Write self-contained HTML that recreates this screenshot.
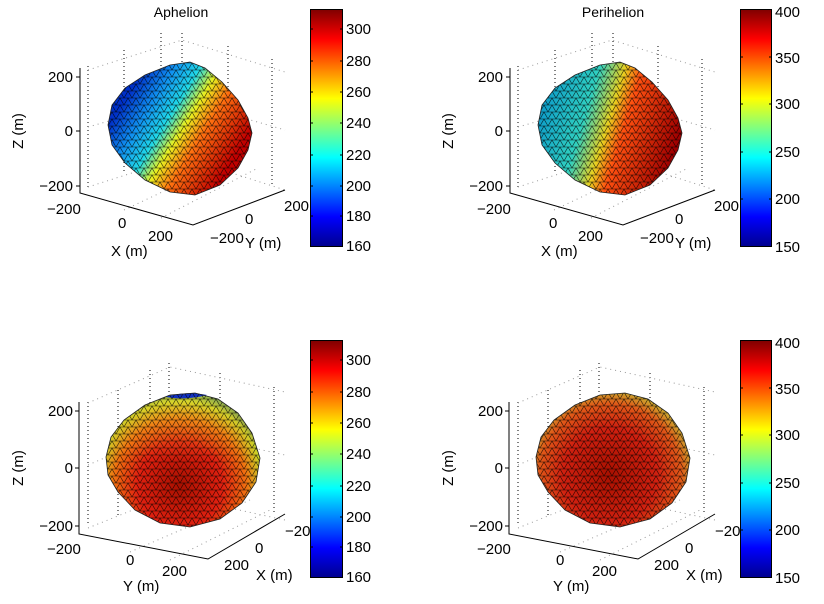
<!DOCTYPE html>
<html><head><meta charset="utf-8"><style>
html,body{margin:0;padding:0;background:#fff}
svg{display:block;font-family:"Liberation Sans",Arial,sans-serif}
</style></head><body>
<svg width="824" height="604" viewBox="0 0 824 604" xmlns="http://www.w3.org/2000/svg">
<defs>
<linearGradient id="jet" x1="0" y1="1" x2="0" y2="0">
<stop offset="0" stop-color="#00008f"/><stop offset="0.125" stop-color="#0000ff"/>
<stop offset="0.375" stop-color="#00ffff"/><stop offset="0.625" stop-color="#ffff00"/>
<stop offset="0.875" stop-color="#ff0000"/><stop offset="1" stop-color="#800000"/>
</linearGradient>
<pattern id="mesh" width="8" height="7" patternUnits="userSpaceOnUse">
<path d="M0 0H8M0 7H8M0 0L4 7L8 0M0 7L-4 0M8 7L12 0" stroke="#000" stroke-width="0.6" fill="none" opacity="0.8"/>
</pattern>
<linearGradient id="g1" gradientUnits="userSpaceOnUse" x1="140" y1="75" x2="245" y2="140">
<stop offset="0" stop-color="#0030c8"/><stop offset="0.2" stop-color="#1090f0"/>
<stop offset="0.38" stop-color="#20d8e8"/><stop offset="0.52" stop-color="#e8f020"/>
<stop offset="0.68" stop-color="#ff7010"/><stop offset="1" stop-color="#c00000"/>
</linearGradient>
<linearGradient id="g2" gradientUnits="userSpaceOnUse" x1="550" y1="90" x2="680" y2="130">
<stop offset="0" stop-color="#10a0c8"/><stop offset="0.3" stop-color="#30d0c0"/>
<stop offset="0.48" stop-color="#e8d020"/><stop offset="0.6" stop-color="#ff5010"/>
<stop offset="1" stop-color="#a00000"/>
</linearGradient>
<radialGradient id="g3" gradientUnits="userSpaceOnUse" cx="180" cy="485" r="95">
<stop offset="0" stop-color="#a81000"/><stop offset="0.45" stop-color="#e02010"/>
<stop offset="0.7" stop-color="#f07010"/><stop offset="0.88" stop-color="#c8d828"/>
<stop offset="1" stop-color="#207878"/>
</radialGradient>
<linearGradient id="g3b" x1="0" y1="0" x2="0" y2="1">
<stop offset="0" stop-color="#e8e030" stop-opacity="0.5"/><stop offset="0.3" stop-color="#f0a020" stop-opacity="0.25"/><stop offset="0.5" stop-color="#f0a020" stop-opacity="0"/>
</linearGradient>
<radialGradient id="g4" gradientUnits="userSpaceOnUse" cx="610" cy="475" r="95">
<stop offset="0" stop-color="#a81000"/><stop offset="0.5" stop-color="#d02010"/>
<stop offset="0.75" stop-color="#e05818"/><stop offset="0.9" stop-color="#c8b030"/>
<stop offset="1" stop-color="#306858"/>
</radialGradient>
</defs>

<!-- ========== PANEL 1 ========== -->
<g>
<text x="181" y="17" font-size="14" text-anchor="middle">Aphelion</text>
<g stroke="#000" stroke-width="1" stroke-dasharray="1,3">
<path d="M88 66V190M124 50V174M161 33V150M182 33V150M228 46V170M272 59V186"/>
</g>
<g stroke="#999" stroke-width="1" stroke-dasharray="1,4" fill="none">
<path d="M88 70L182 40L285 72M88 127L182 100L285 130M88 187L182 157L285 190M124 210L230 160M161 218L258 168"/>
</g>
<path d="M108 125L112 105L125 88L145 75L170 65L190 62L205 68L222 82L238 100L248 118L252 133L248 150L238 168L220 185L195 195L170 192L145 180L125 163L112 145Z" fill="url(#g1)"/>
<path d="M108 125L112 105L125 88L145 75L170 65L190 62L205 68L222 82L238 100L248 118L252 133L248 150L238 168L220 185L195 195L170 192L145 180L125 163L112 145Z" fill="url(#mesh)" stroke="#222" stroke-width="0.8"/>
<g stroke="#000" fill="none" stroke-width="1">
<path d="M80 68V193L193 225L285 190M76 77H80M76 131H80M76 186H80"/>
</g>
<g font-size="15" text-anchor="end">
<text x="73" y="82">200</text><text x="73" y="136">0</text><text x="73" y="191">−200</text>
</g>
<text transform="translate(23,131) rotate(-90)" font-size="15" text-anchor="middle">Z (m)</text>
<g font-size="15">
<text x="47" y="214">−200</text><text x="118" y="228">0</text><text x="148" y="241">200</text>
<text x="111" y="256">X (m)</text>
<text x="284" y="211">200</text><text x="245" y="224">0</text><text x="210" y="243">−200</text>
<text x="245" y="248">Y (m)</text>
</g>
<rect x="310.5" y="9.5" width="32" height="237" fill="url(#jet)" stroke="#000"/>
<g stroke="#000"><path d="M310 29h3M340 29h3M310 61h3M340 61h3M310 92h3M340 92h3M310 123h3M340 123h3M310 155h3M340 155h3M310 186h3M340 186h3M310 216h3M340 216h3"/></g>
<g font-size="15"><text x="346" y="34">300</text><text x="346" y="66">280</text><text x="346" y="97">260</text><text x="346" y="128">240</text><text x="346" y="160">220</text><text x="346" y="191">200</text><text x="346" y="221">180</text><text x="346" y="251">160</text></g>
</g>

<!-- ========== PANEL 2 ========== -->
<g>
<text x="613" y="17" font-size="14" text-anchor="middle">Perihelion</text>
<g stroke="#000" stroke-width="1" stroke-dasharray="1,3">
<path d="M518 66V190M555 50V174M592 33V150M613 33V150M658 46V170M702 59V186"/>
</g>
<g stroke="#999" stroke-width="1" stroke-dasharray="1,4" fill="none">
<path d="M518 70L612 40L715 72M518 127L612 100L715 130M518 187L612 157L715 190M554 210L660 160M591 218L688 168"/>
</g>
<path d="M538 125L542 105L555 88L575 75L600 65L620 62L635 68L652 82L668 100L678 118L682 133L678 150L668 168L650 185L625 195L600 192L575 180L555 163L542 145Z" fill="url(#g2)"/>
<path d="M538 125L542 105L555 88L575 75L600 65L620 62L635 68L652 82L668 100L678 118L682 133L678 150L668 168L650 185L625 195L600 192L575 180L555 163L542 145Z" fill="url(#mesh)" stroke="#222" stroke-width="0.8"/>
<g stroke="#000" fill="none" stroke-width="1">
<path d="M510 68V193L623 225L715 190M506 77H510M506 131H510M506 186H510"/>
</g>
<g font-size="15" text-anchor="end">
<text x="503" y="82">200</text><text x="503" y="136">0</text><text x="503" y="191">−200</text>
</g>
<text transform="translate(453,131) rotate(-90)" font-size="15" text-anchor="middle">Z (m)</text>
<g font-size="15">
<text x="477" y="214">−200</text><text x="549" y="228">0</text><text x="578" y="241">200</text>
<text x="541" y="256">X (m)</text>
<text x="714" y="211">200</text><text x="675" y="224">0</text><text x="640" y="243">−200</text>
<text x="675" y="248">Y (m)</text>
</g>
<rect x="740.5" y="9.5" width="31" height="237" fill="url(#jet)" stroke="#000"/>
<g stroke="#000"><path d="M740 57h3M769 57h3M740 104h3M769 104h3M740 152h3M769 152h3M740 199h3M769 199h3"/></g>
<g font-size="15"><text x="775" y="17">400</text><text x="775" y="63">350</text><text x="775" y="109">300</text><text x="775" y="157">250</text><text x="775" y="204">200</text><text x="775" y="252">150</text></g>
</g>

<!-- ========== PANEL 3 ========== -->
<g>
<g stroke="#000" stroke-width="1" stroke-dasharray="1,3">
<path d="M88 402V525M118 390V515M150 370V495M169 363V480M220 373V500M274 387V512"/>
</g>
<g stroke="#999" stroke-width="1" stroke-dasharray="1,4" fill="none">
<path d="M88 403L170 367L285 392M88 465L170 430L285 455M88 528L170 495L285 520M130 552L250 500M170 560L270 510"/>
</g>
<path d="M106 457L111 437L124 420L145 405L170 395L195 393L218 399L238 413L252 433L260 458L256 482L242 503L220 519L190 527L160 523L135 510L118 492L108 475Z" fill="url(#g3)"/>
<path d="M106 457L111 437L124 420L145 405L170 395L195 393L218 399L238 413L252 433L260 458L256 482L242 503L220 519L190 527L160 523L135 510L118 492L108 475Z" fill="url(#g3b)"/>
<path d="M165 397C178 393 192 392 207 395C192 399 178 399 165 397Z" fill="#1030c0"/>
<path d="M106 457L111 437L124 420L145 405L170 395L195 393L218 399L238 413L252 433L260 458L256 482L242 503L220 519L190 527L160 523L135 510L118 492L108 475Z" fill="url(#mesh)" stroke="#222" stroke-width="0.8"/>
<g stroke="#000" fill="none" stroke-width="1">
<path d="M79 402V534L208 559L285 514M75 411H79M75 468H79M75 526H79"/>
</g>
<g font-size="15" text-anchor="end">
<text x="73" y="416">200</text><text x="73" y="473">0</text><text x="73" y="531">−200</text>
</g>
<text transform="translate(23,468) rotate(-90)" font-size="15" text-anchor="middle">Z (m)</text>
<g font-size="15">
<text x="47" y="554">−200</text><text x="126" y="565">0</text><text x="162" y="576">200</text>
<text x="123" y="591">Y (m)</text>
<text x="285" y="536">−20</text><text x="255" y="553">0</text><text x="224" y="570">200</text>
<text x="256" y="580">X (m)</text>
</g>
<rect x="310.5" y="340.5" width="32" height="237" fill="url(#jet)" stroke="#000"/>
<g stroke="#000"><path d="M310 360h3M340 360h3M310 392h3M340 392h3M310 423h3M340 423h3M310 454h3M340 454h3M310 486h3M340 486h3M310 517h3M340 517h3M310 547h3M340 547h3"/></g>
<g font-size="15"><text x="346" y="365">300</text><text x="346" y="397">280</text><text x="346" y="428">260</text><text x="346" y="459">240</text><text x="346" y="491">220</text><text x="346" y="522">200</text><text x="346" y="552">180</text><text x="346" y="582">160</text></g>
</g>

<!-- ========== PANEL 4 ========== -->
<g>
<g stroke="#000" stroke-width="1" stroke-dasharray="1,3">
<path d="M518 402V525M548 390V515M580 370V495M599 363V480M650 373V500M704 387V512"/>
</g>
<g stroke="#999" stroke-width="1" stroke-dasharray="1,4" fill="none">
<path d="M518 403L600 367L715 392M518 465L600 430L715 455M518 528L600 495L715 520M560 552L680 500M600 560L700 510"/>
</g>
<path d="M536 457L541 437L554 420L575 405L600 395L625 393L648 399L668 413L682 433L690 458L686 482L672 503L650 519L620 527L590 523L565 510L548 492L538 475Z" fill="url(#g4)"/>
<path d="M536 457L541 437L554 420L575 405L600 395L625 393L648 399L668 413L682 433L690 458L686 482L672 503L650 519L620 527L590 523L565 510L548 492L538 475Z" fill="url(#mesh)" stroke="#222" stroke-width="0.8"/>
<g stroke="#000" fill="none" stroke-width="1">
<path d="M509 402V534L638 559L715 514M505 411H509M505 468H509M505 526H509"/>
</g>
<g font-size="15" text-anchor="end">
<text x="503" y="416">200</text><text x="503" y="473">0</text><text x="503" y="531">−200</text>
</g>
<text transform="translate(453,468) rotate(-90)" font-size="15" text-anchor="middle">Z (m)</text>
<g font-size="15">
<text x="477" y="554">−200</text><text x="556" y="565">0</text><text x="592" y="576">200</text>
<text x="553" y="591">Y (m)</text>
<text x="715" y="536">−20</text><text x="685" y="553">0</text><text x="654" y="570">200</text>
<text x="686" y="580">X (m)</text>
</g>
<rect x="740.5" y="340.5" width="31" height="237" fill="url(#jet)" stroke="#000"/>
<g stroke="#000"><path d="M740 388h3M769 388h3M740 435h3M769 435h3M740 483h3M769 483h3M740 530h3M769 530h3"/></g>
<g font-size="15"><text x="775" y="348">400</text><text x="775" y="394">350</text><text x="775" y="440">300</text><text x="775" y="488">250</text><text x="775" y="535">200</text><text x="775" y="583">150</text></g>
</g>
</svg>
</body></html>
